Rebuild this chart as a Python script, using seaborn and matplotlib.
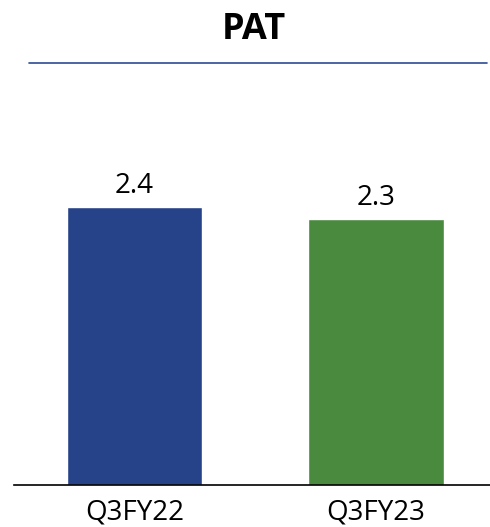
import matplotlib
matplotlib.use('Agg')
import matplotlib.pyplot as plt
import seaborn as sns
import pandas as pd

# data
periods = ['Q3FY22', 'Q3FY23']
pat = [2.4, 2.3]
bar_colors = ['#264289', '#4a8a3f']

sns.set_style('white')
plt.rcParams['font.family'] = ['Open Sans', 'DejaVu Sans']
plt.rcParams['text.color'] = 'black'
plt.rcParams['xtick.color'] = 'black'

df = pd.DataFrame({'period': periods, 'pat': pat})

fig = plt.figure(figsize=(4.9, 5.27), dpi=100)
ax = fig.add_axes([14 / 490, 1 - 485 / 527, 476 / 490, 405 / 527])

sns.barplot(data=df, x='period', y='pat', hue='period', palette=bar_colors,
            width=0.56, legend=False, ax=ax, saturation=1)

# value labels above the bars
for i, v in enumerate(pat):
    ax.text(i, v + 0.06, f'{v:.1f}', ha='center', va='bottom', fontsize=20,
            color='black')

ax.set_xlim(-0.499, 1.472)
ax.set_ylim(0, 405 / 115.8)
ax.set_xlabel('')
ax.set_ylabel('')
ax.set_yticks([])
ax.tick_params(axis='x', length=0, labelsize=20, pad=10, labelcolor='black')
for s in ['top', 'right', 'left']:
    ax.spines[s].set_visible(False)
ax.spines['bottom'].set_color('black')
ax.spines['bottom'].set_linewidth(1.2)

# title and rule
fig.text(254 / 490, 1 - 30 / 527, 'PAT', ha='center', va='center',
         fontsize=26, fontweight='bold', color='black')
fig.add_artist(plt.Line2D([29 / 490, 487 / 490], [1 - 63 / 527, 1 - 63 / 527],
                          color='#2c4c92', linewidth=1.2))

fig.savefig('out.png', dpi=100)
